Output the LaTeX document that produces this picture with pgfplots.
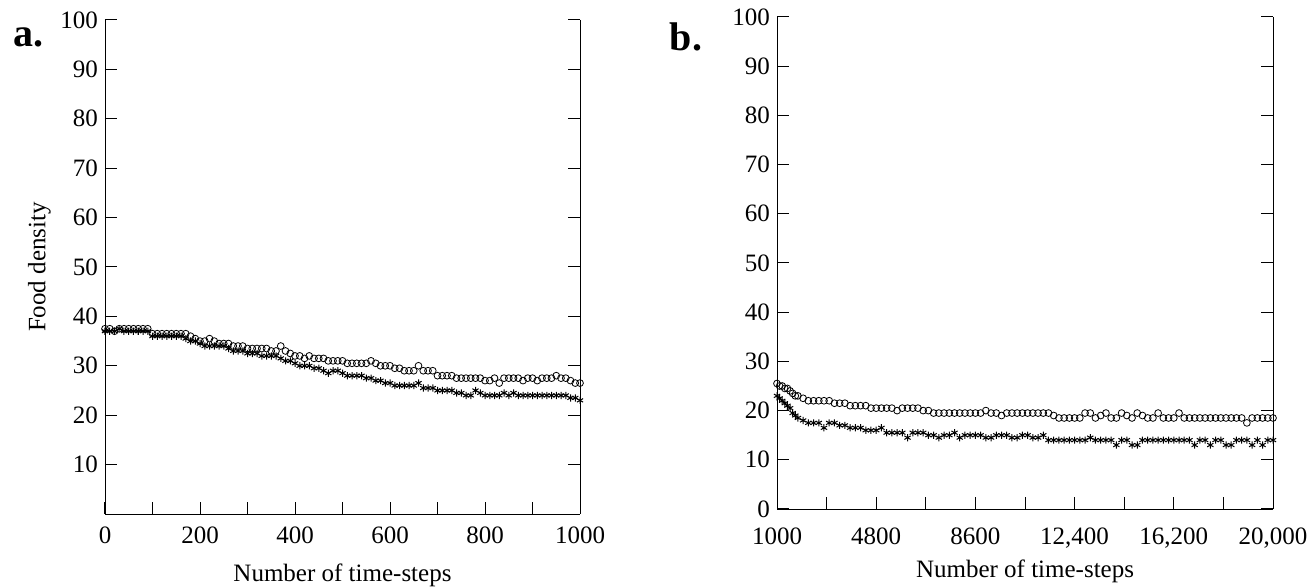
\documentclass[border=0pt]{standalone}
\usepackage{pgfplots}
\pgfplotsset{compat=1.18}
\usepackage{fontspec}
\setmainfont{Liberation Serif}
\pgfplotsset{every axis/.style={
  /pgf/number format/assume math mode=true,
  /pgf/number format/1000 sep={},
  scaled ticks=false,
  axis y line=box, axis x line=bottom,
  axis line style={-},
  tick align=inside, major tick length=6pt, minor tick length=6pt,
  tick style={black, line width=0.5pt},
  ymin=0, ymax=100, ytick={10,20,...,100},
  ticklabel style={font=\fontsize{12.5}{14}\selectfont},
  label style={font=\fontsize{12.5}{14}\selectfont},
  clip=false, scale only axis}}
\pgfplotsset{circ/.style={only marks, mark=o, mark size=1.7pt, black, mark options={line width=0.4pt}},
  star/.style={only marks, mark=asterisk, mark size=1.8pt, black, mark options={line width=0.5pt}}}
\begin{document}
\begin{tikzpicture}
\useasboundingbox (0,0) rectangle (654pt,294pt);
\begin{axis}[at={(52.5pt,37pt)}, anchor=south west, width=237.5pt, height=247pt,
  xmin=0, xmax=1000, xtick={0,200,...,1000}, minor xtick={100,300,...,900},
  xlabel={Number of time-steps}, ylabel={Food density},
  xlabel style={yshift=-3pt}, ylabel style={yshift=-2pt},
  xticklabel style={yshift=-3pt}]
\addplot[circ] table[x expr=10*\coordindex, y index=0] {
y
37.5
37.5
37
37.5
37.5
37.5
37.5
37.5
37.5
37.5
36.5
36.5
36.5
36.5
36.5
36.5
36.5
36.5
36
35.5
35
35
35.5
35
34.5
34.5
34.5
34
34
34
33.5
33.5
33.5
33.5
33.5
33
33
34
33
32.5
32
32
31.5
32
31.5
31.5
31.5
31
31
31
31
30.5
30.5
30.5
30.5
30.5
31
30.5
30
30
30
29.5
29.5
29
29
29
30
29
29
29
28
28
28
28
27.5
27.5
27.5
27.5
27.5
27.5
27
27
27.5
26.5
27.5
27.5
27.5
27.5
27
27.5
27.5
27
27.5
27.5
27.5
28
27.5
27.5
27
26.5
26.5
};
\addplot[star] table[x expr=10*\coordindex, y index=0] {
y
37
37
37
37.5
37
37
37
37
37
37
36
36
36
36
36
36
36
35.5
35
35
34.5
34
34
34
34
34
33.5
33
33
33
32.5
32.5
32.5
32
32
32
32
31.5
31
31
30.5
30
30
30
29.5
29.5
29
28.5
29
29
28.5
28
28
28
28
27.5
27.5
27
27
26.5
26.5
26
26
26
26
26
26.5
25.5
25.5
25.5
25
25
25
25
24.5
24.5
24
24
25
24.5
24
24
24
24
24.5
24
24.5
24
24
24
24
24
24
24
24
24
24
24
23.5
23.5
23
};
\end{axis}
\node[font=\fontsize{20}{22}\selectfont\bfseries] at (14pt,275.5pt) {a.};
\begin{axis}[at={(388.5pt,39.5pt)}, anchor=south west, width=248pt, height=246pt,
  ytick={0,10,...,100},
  xmin=1000, xmax=20000, xtick={1000,4800,8600,12400,16200,20000},
  minor xtick={2900,6700,10500,14300,18100},
  xticklabels={1000,4800,8600,{12,400},{16,200},{20,000}},
  xlabel={Number of time-steps}, xlabel style={yshift=1pt},
  xticklabel style={yshift=-6pt}]
\addplot[circ] coordinates {
(1000,25.5)(1100,25)(1200,25)(1300,24.5)(1400,24.5)(1500,24)(1600,23.5)(1700,23)(1800,23)(2000,22.5)(2200,22)(2400,22)(2600,22)(2800,22)(3000,22)(3200,21.5)(3400,21.5)(3600,21.5)(3800,21)(4000,21)(4200,21)(4400,21)(4600,20.5)(4800,20.5)(5000,20.5)(5200,20.5)(5400,20.5)(5600,20)(5800,20.5)(6000,20.5)(6200,20.5)(6400,20.5)(6600,20)(6800,20)(7000,19.5)(7200,19.5)(7400,19.5)(7600,19.5)(7800,19.5)(8000,19.5)(8200,19.5)(8400,19.5)(8600,19.5)(8800,19.5)(9000,20)(9200,19.5)(9400,19.5)(9600,19)(9800,19.5)(10000,19.5)(10200,19.5)(10400,19.5)(10600,19.5)(10800,19.5)(11000,19.5)(11200,19.5)(11400,19.5)(11600,19)(11800,18.5)(12000,18.5)(12200,18.5)(12400,18.5)(12600,18.5)(12800,19.5)(13000,19.5)(13200,18.5)(13400,19)(13600,19.5)(13800,18.5)(14000,18.5)(14200,19.5)(14400,19)(14600,18.5)(14800,19.5)(15000,19)(15200,18.5)(15400,18.5)(15600,19.5)(15800,18.5)(16000,18.5)(16200,18.5)(16400,19.5)(16600,18.5)(16800,18.5)(17000,18.5)(17200,18.5)(17400,18.5)(17600,18.5)(17800,18.5)(18000,18.5)(18200,18.5)(18400,18.5)(18600,18.5)(18800,18.5)(19000,17.5)(19200,18.5)(19400,18.5)(19600,18.5)(19800,18.5)(20000,18.5)};
\addplot[star] coordinates {
(1000,23)(1100,22.5)(1200,22)(1300,21.5)(1400,21)(1500,20.5)(1600,19.5)(1700,19)(1800,18.5)(2000,18)(2200,17.5)(2400,17.5)(2600,17.5)(2800,16.5)(3000,17.5)(3200,17.5)(3400,17)(3600,17)(3800,16.5)(4000,16.5)(4200,16.5)(4400,16)(4600,16)(4800,16)(5000,16.5)(5200,15.5)(5400,15.5)(5600,15.5)(5800,15.5)(6000,14.5)(6200,15.5)(6400,15.5)(6600,15.5)(6800,15)(7000,15)(7200,14.5)(7400,15)(7600,15)(7800,15.5)(8000,14.5)(8200,15)(8400,15)(8600,15)(8800,15)(9000,14.5)(9200,14.5)(9400,15)(9600,15)(9800,15)(10000,14.5)(10200,14.5)(10400,15)(10600,15)(10800,14.5)(11000,14.5)(11200,15)(11400,14)(11600,14)(11800,14)(12000,14)(12200,14)(12400,14)(12600,14)(12800,14)(13000,14.5)(13200,14)(13400,14)(13600,14)(13800,14)(14000,13)(14200,14)(14400,14)(14600,13)(14800,13)(15000,14)(15200,14)(15400,14)(15600,14)(15800,14)(16000,14)(16200,14)(16400,14)(16600,14)(16800,14)(17000,13)(17200,14)(17400,14)(17600,13)(17800,14)(18000,14)(18200,13)(18400,13)(18600,14)(18800,14)(19000,14)(19200,13)(19400,14)(19600,13)(19800,14)(20000,14)};
\end{axis}
\node[font=\fontsize{20}{22}\selectfont\bfseries] at (343pt,275.5pt) {b.};
\end{tikzpicture}
\end{document}
